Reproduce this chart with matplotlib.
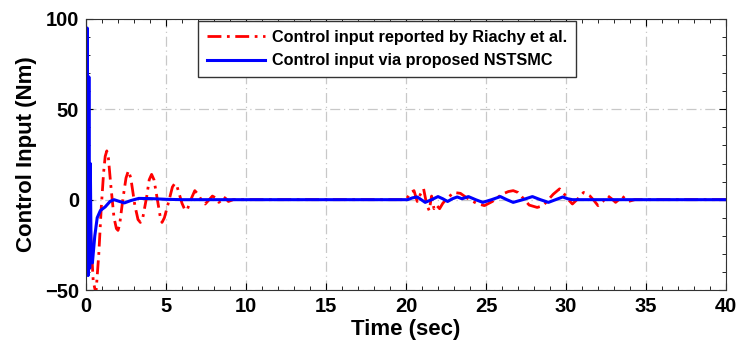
import matplotlib.pyplot as plt
from matplotlib.ticker import MultipleLocator

# --- data ---
t_red = [0.0, 0.1, 0.2, 0.3, 0.45, 0.62, 0.8, 0.95, 1.1, 1.2, 1.3, 1.4, 1.55, 1.75, 1.9,
         2.0, 2.1, 2.3, 2.5, 2.65, 2.8, 3.05, 3.25, 3.4, 3.55, 3.8, 3.95, 4.1, 4.25,
         4.5, 4.65, 4.75, 4.9, 5.2, 5.4, 5.55, 5.7, 6.0, 6.2, 6.35, 6.6, 6.8, 7.0,
         7.2, 7.45, 7.7, 7.9, 8.1, 8.3, 8.45, 8.6, 8.75, 8.9, 9.2, 20.0, 20.3, 20.5,
         20.7, 20.9, 21.1, 21.3, 21.45, 21.6, 21.75, 21.9, 22.1, 22.3, 22.6, 22.8,
         23.0, 23.4, 23.8, 24.1, 24.4, 24.9, 25.4, 25.7, 26.0, 26.4, 26.7, 27.0, 27.2,
         27.7, 28.2, 28.5, 28.7, 29.0, 29.2, 29.6, 29.9, 30.15, 30.4, 30.8, 31.1, 31.5,
         31.75, 32.0, 32.3, 32.6, 32.85, 33.1, 33.3, 33.5, 33.7, 33.9, 34.3, 40.0]
u_red = [60, 35, 12, -20, -45, -52, -30, -5, 15, 24, 27, 23, 8, -10, -16,
         -17, -14, 0, 12, 16, 12, -3, -11, -12.6, -10, 2, 11, 14, 11,
         -2, -10, -12.6, -10, 0, 7, 9, 7, -2, -6, -5, 1, 5, 3,
         0, -2.4, 0, 2, 1, -1.5, -0.5, 1.5, 0.5, -1, 0, 0, 4, 5,
         -1, 3, 6, -3, -6, 2, -5, -3, -5, -2, 1, 2.5,
         4, 3.5, 1, -0.5, -2, -3.3, -1, 1, 3, 4.5, 5, 4, 2,
         -3, -4.3, -3.5, -2, 1, 3, 6, 3, 0, -2.4, 1, 4, 2,
         -0.5, -3.3, -1, 2.2, 0.5, -1.5, 0, 2, 0.5, -1, 0, 0]

t_blue = [0.0, 0.08, 0.13, 0.18, 0.23, 0.27, 0.32, 0.4, 0.55, 0.7, 0.9, 1.2, 1.5, 1.75,
          2.1, 2.4, 2.8, 3.3, 4.0, 5.0, 6.0, 20.0, 20.1, 20.4, 20.7, 20.95, 21.2, 21.6,
          22.0, 22.3, 22.6, 22.9, 23.2, 23.5, 23.9, 24.35, 24.8, 25.35, 25.9, 26.3,
          26.7, 27.3, 27.9, 28.4, 28.9, 29.35, 29.8, 30.1, 30.4, 40.0]
u_blue = [0, 95, -42, 68, -38, 20, -30, -35, -20, -10, -6, -4, -1, 0,
          -1, -1.8, -0.5, 0.7, 0.6, 0.2, 0, 0, 0, 1, 1.5, 0, -1.5, 0,
          1.7, 0.5, -1, 0.5, 1.5, 0.5, 1.7, 0, -1.5, 0, 1.7, 0,
          -1.5, 0, 1.7, 0, -1.5, 0, 1.5, 0.5, 0, 0]

plt.rcParams['font.family'] = ['Liberation Sans', 'DejaVu Sans']
plt.rcParams['font.weight'] = 'bold'

fig = plt.figure(figsize=(7.38, 3.61), dpi=100)
ax = fig.add_axes([86 / 738, 1 - 290 / 361, 640 / 738, 271 / 361])

ax.plot(t_red, u_red, color='red', lw=2, linestyle=(0, (5, 2, 1, 2)),
        label='Control input reported by Riachy et al.')
ax.plot(t_blue, u_blue, color='blue', lw=2.2,
        label='Control input via proposed NSTSMC')

ax.set_xlim(0, 40)
ax.set_ylim(-50, 100)
ax.xaxis.set_major_locator(MultipleLocator(5))
ax.xaxis.set_minor_locator(MultipleLocator(1))
ax.yaxis.set_major_locator(MultipleLocator(50))
ax.yaxis.set_minor_locator(MultipleLocator(10))
ax.tick_params(which='both', direction='in', top=True, right=True, labelsize=14.5)
ax.tick_params(which='major', length=5, pad=5)
ax.tick_params(which='minor', length=3)
ax.grid(True, which='major', color='#c8c8c8', linestyle=(0, (8, 3, 1, 3)), lw=0.9)
for s in ax.spines.values():
    s.set_color('#333333')

ax.set_xlabel('Time (sec)', fontsize=16, fontweight='bold', labelpad=2)
ax.set_ylabel('Control Input (Nm)', fontsize=16, fontweight='bold', labelpad=6)

leg = ax.legend(loc='upper left', bbox_to_anchor=(0.172, 1.0), fontsize=11.7,
                handlelength=3.6, handletextpad=0.4, labelspacing=0.55,
                borderpad=0.55, fancybox=False, framealpha=1,
                edgecolor='#333333', borderaxespad=0.1)
for txt in leg.get_texts():
    txt.set_fontweight('bold')

fig.savefig('out.png', dpi=100)
